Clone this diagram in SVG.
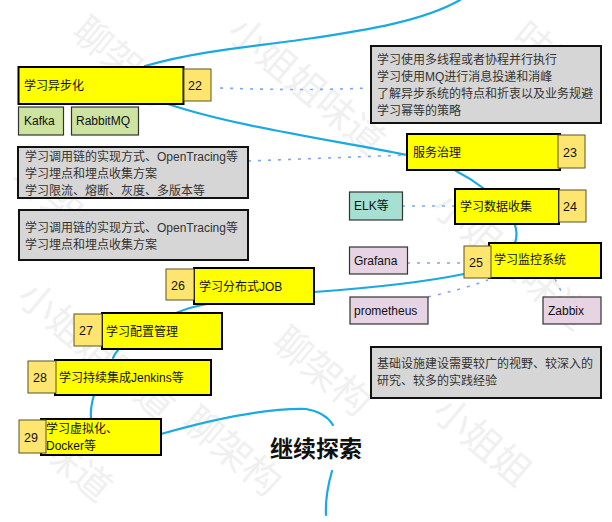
<svg xmlns="http://www.w3.org/2000/svg" width="612" height="522" viewBox="0 0 612 522">
<style>
text{font-family:"Liberation Sans","Noto Sans CJK SC",sans-serif;font-size:12px;fill:#111}
.y rect{fill:#ffff00;stroke:#000;stroke-width:2}
.n rect{fill:#fee56f;stroke:#5b5526;stroke-width:1}
.n text{font-size:12.500px}
.g rect{fill:#d6d6d6;stroke:#111;stroke-width:2}
.g text{fill:#333}
.s{stroke:#333;stroke-width:1.2}
.cv{fill:none;stroke:#1aa9e0;stroke-width:2.2;stroke-linecap:round}
.dt{fill:none;stroke:#7fa8e8;stroke-width:1.6;stroke-dasharray:3 7}
.wm text{font-size:38px;fill:#f0f0f0}
</style>
<rect width="612" height="522" fill="#fff"/>
<g class="wm">
<text transform="translate(70,35) rotate(40)">聊架构</text>
<text transform="translate(225,35) rotate(40)">小姐姐味道</text>
<text transform="translate(10,180) rotate(40)">聊架构</text>
<text transform="translate(510,40) rotate(40)">味道</text>
<text transform="translate(15,300) rotate(40)">小姐姐味道</text>
<text transform="translate(270,345) rotate(40)">聊架构</text>
<text transform="translate(430,415) rotate(40)">小姐姐</text>
<text transform="translate(40,455) rotate(40)">味道</text>
<text transform="translate(180,425) rotate(40)">聊架构</text>
<text transform="translate(430,210) rotate(40)">小姐姐味道</text>
</g>
<g id="connectors">
<path class="cv" d="M145 66C200 50 260 46 306 39C370 30 425 20 460 0"/>
<path class="cv" d="M168 104C230 125 320 138 407 155"/>
<path class="cv" d="M456 171Q470 178 483 188"/>
<path class="cv" d="M515 225Q518 235 515 243"/>
<path class="cv" d="M464 274C420 283 370 288 314 292"/>
<path class="cv" d="M207 304Q190 307 176 313"/>
<path class="cv" d="M119 349Q115 353 113 358"/>
<path class="cv" d="M94 395Q90 408 91 420"/>
<path class="cv" d="M161 434C210 420 265 408 306 409Q325 412 333 425"/>
<path class="cv" d="M332 471Q325 495 326 515"/>
<path class="dt" d="M220 88C280 90 320 90 371 88"/>
<path class="dt" d="M248 161L407 155"/>
<path class="dt" d="M402 206H454"/>
<path class="dt" d="M407 263H464"/>
<path class="dt" d="M428 297Q460 290 488 280"/>
<path class="dt" d="M555 279L562 293"/>
</g>
<g id="n22"><g class="y"><rect x="18.500" y="67" width="165" height="37"/></g><text x="24" y="90">学习异步化</text><g class="n"><rect x="184" y="69" width="27" height="32"/><text x="188" y="90">22</text></g></g>
<g id="kafka"><rect class="s" x="18.500" y="107" width="45" height="28" fill="#cde3a0"/><text x="24" y="125">Kafka</text></g>
<g id="rabbitmq"><rect class="s" x="71.500" y="107" width="67" height="28" fill="#cde3a0"/><text x="76" y="125">RabbitMQ</text></g>
<g id="note1" class="g"><rect x="18" y="147" width="230" height="51"/><text x="25" y="161">学习调用链的实现方式、OpenTracing等</text><text x="25" y="178">学习埋点和埋点收集方案</text><text x="25" y="195">学习限流、熔断、灰度、多版本等</text></g>
<g id="note2" class="g"><rect x="19" y="210" width="229" height="50"/><text x="25" y="232">学习调用链的实现方式、OpenTracing等</text><text x="25" y="249">学习埋点和埋点收集方案</text></g>
<g id="note3" class="g"><rect x="371" y="46" width="230" height="77"/><text x="377" y="64">学习使用多线程或者协程并行执行</text><text x="377" y="81">学习使用MQ进行消息投递和消峰</text><text x="377" y="98">了解异步系统的特点和折衷以及业务规避</text><text x="377" y="115">学习幂等的策略</text></g>
<g id="n23"><g class="y"><rect x="407" y="134" width="153" height="36"/></g><text x="413" y="157">服务治理</text><g class="n"><rect x="558" y="135" width="27" height="33"/><text x="563" y="157">23</text></g></g>
<g id="elk"><rect class="s" x="349.500" y="192" width="53" height="28" fill="#a5e0d2"/><text x="354" y="210">ELK等</text></g>
<g id="n24"><g class="y"><rect x="455" y="189" width="104" height="35"/></g><text x="460" y="211">学习数据收集</text><g class="n"><rect x="559" y="190" width="27" height="32"/><text x="563" y="211">24</text></g></g>
<g id="grafana"><rect class="s" x="349.500" y="247" width="58" height="27" fill="#e6d3e3"/><text x="354" y="265">Grafana</text></g>
<g id="n25"><g class="y"><rect x="489" y="243" width="112" height="35"/></g><text x="494" y="264">学习监控系统</text><g class="n"><rect x="464" y="246" width="27" height="32"/><text x="469" y="267">25</text></g></g>
<g id="prometheus"><rect class="s" x="350" y="297" width="78" height="27" fill="#e6d3e3"/><text x="354" y="315">prometheus</text></g>
<g id="zabbix"><rect class="s" x="543" y="297" width="58" height="27" fill="#e6d3e3"/><text x="548" y="315">Zabbix</text></g>
<g id="note4" class="g"><rect x="371" y="347" width="230" height="51"/><text x="377" y="368">基础设施建设需要较广的视野、较深入的</text><text x="377" y="385">研究、较多的实践经验</text></g>
<g id="n26"><g class="y"><rect x="194" y="268" width="120" height="36"/></g><text x="199" y="291">学习分布式JOB</text><g class="n"><rect x="166" y="269" width="28" height="31"/><text x="171" y="290">26</text></g></g>
<g id="n27"><g class="y"><rect x="102" y="313" width="120" height="36"/></g><text x="106" y="336">学习配置管理</text><g class="n"><rect x="74" y="314" width="28" height="32"/><text x="79" y="335">27</text></g></g>
<g id="n28"><g class="y"><rect x="55" y="360" width="156" height="35"/></g><text x="59" y="382">学习持续集成Jenkins等</text><g class="n"><rect x="28" y="361" width="28" height="32"/><text x="33" y="382">28</text></g></g>
<g id="n29"><g class="y"><rect x="41" y="419" width="120" height="36"/></g><text x="46" y="433">学习虚拟化、</text><text x="46" y="450">Docker等</text><g class="n"><rect x="19" y="420" width="27" height="33"/><text x="24" y="442">29</text></g></g>
<text id="title" x="316" y="457" text-anchor="middle" style="font-size:23px;font-weight:700">继续探索</text>
</svg>
